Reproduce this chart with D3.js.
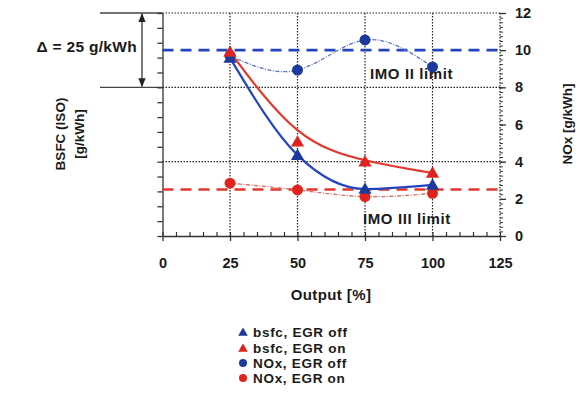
<!DOCTYPE html>
<html><head><meta charset="utf-8">
<script src="https://cdn.jsdelivr.net/npm/d3@7"></script>
<style>
body{margin:0;background:#fff}
svg{display:block}
text{font-family:"Liberation Sans",Arial,sans-serif;font-weight:bold;fill:#1a1a1a}
</style>
</head><body><svg id="c" width="580" height="393"></svg>
<script>
// ---- data ----
const outputs = [25, 50, 75, 100];
const bsfcEgrOff = [234.9, 202.2, 190.8, 192.2];
const bsfcEgrOn  = [236.9, 206.7, 200.0, 196.2];
const noxEgrOff  = [9.7, 8.93, 10.55, 9.1];
const noxEgrOn   = [2.84, 2.48, 2.12, 2.3];
const xTicks = [0, 25, 50, 75, 100, 125];
const noxTicks = [0, 2, 4, 6, 8, 10, 12];
const noxGrid = [4, 8];
const imoII = 10, imoIII = 2.5;
const bsfcDelta = [225, 250];
const legendLabels = ["bsfc, EGR off", "bsfc, EGR on", "NOx, EGR off", "NOx, EGR on"];

const BLUE = "#2545c0", RED = "#e5362b", BLUE_M = "#1c3a9e", RED_M = "#e0231c";
const L = 162.5, R = 500, T = 13, B = 236;

const svg = d3.select("#c");
const x = d3.scaleLinear().domain([0, 125]).range([L, R]);
const yN = d3.scaleLinear().domain([0, 12]).range([B, T]);
const yB = d3.scaleLinear().domain([175, 250]).range([B, T]);

const dotted = "1.5,1.5";

// grid & frame
const g = svg.append("g");
outputs.forEach(v => g.append("line").attr("x1", x(v)).attr("x2", x(v)).attr("y1", T).attr("y2", B)
  .attr("stroke", "#222").attr("stroke-width", 1.2).attr("stroke-dasharray", dotted));
noxGrid.concat([12]).forEach(v => g.append("line").attr("x1", L).attr("x2", R).attr("y1", yN(v)).attr("y2", yN(v))
  .attr("stroke", "#222").attr("stroke-width", 1.2).attr("stroke-dasharray", dotted));
g.append("line").attr("x1", R).attr("x2", R).attr("y1", T).attr("y2", B)
  .attr("stroke", "#222").attr("stroke-width", 1.2).attr("stroke-dasharray", dotted);

// bracket for delta
bsfcDelta.forEach(v => svg.append("line").attr("x1", 100).attr("x2", L).attr("y1", yB(v)).attr("y2", yB(v))
  .attr("stroke", "#444").attr("stroke-width", 1.3));
svg.append("defs").html('<marker id="ah" viewBox="0 0 10 10" refX="9" refY="5" markerWidth="7" markerHeight="7" orient="auto-start-reverse"><path d="M0,1 L10,5 L0,9 z" fill="#222"/></marker>');
svg.append("line").attr("x1", 142).attr("x2", 142).attr("y1", yB(bsfcDelta[1]) + 1).attr("y2", yB(bsfcDelta[0]) - 1)
  .attr("stroke", "#333").attr("stroke-width", 1.3)
  .attr("marker-start", "url(#ah)").attr("marker-end", "url(#ah)");
svg.append("text").attr("x", 137).attr("y", 52).attr("text-anchor", "end").attr("font-size", 15.5)
  .attr("letter-spacing", 0.3).text("\u0394 = 25 g/kWh");

// left axis (BSFC, no labels)
const la = svg.append("g").attr("transform", `translate(${L},0)`)
  .call(d3.axisLeft(yB).tickValues(d3.range(175, 251, 5)).tickSize(5).tickSizeOuter(0).tickFormat(""));
la.selectAll("path,line").attr("stroke", "#333").attr("stroke-width", 1.3);

// bottom axis
const ba = svg.append("g").attr("transform", `translate(0,${B})`)
  .call(d3.axisBottom(x).tickValues(xTicks).tickSize(5).tickSizeOuter(0).tickPadding(17).tickFormat(d3.format("d")));
ba.selectAll("path,line").attr("stroke", "#333").attr("stroke-width", 1.3);
ba.selectAll("text").attr("font-size", 14.5).attr("fill", "#1a1a1a");
const bm = svg.append("g").attr("transform", `translate(0,${B})`)
  .call(d3.axisTop(x).tickValues(d3.range(0, 126, 5)).tickSize(4).tickSizeOuter(0).tickFormat(""));
bm.select("path").remove();
bm.selectAll("line").attr("stroke", "#333").attr("stroke-width", 1.2);

// right axis
const ra = svg.append("g").attr("transform", `translate(${R},0)`)
  .call(d3.axisRight(yN).tickValues(noxTicks).tickSize(6).tickSizeOuter(0).tickPadding(9));
ra.select("path").remove();
ra.selectAll("line").attr("stroke", "#333").attr("stroke-width", 1.3);
ra.selectAll("text").attr("font-size", 14.5).attr("fill", "#1a1a1a");
const rm = svg.append("g").attr("transform", `translate(${R},0)`)
  .call(d3.axisRight(yN).tickValues(d3.range(0, 12.01, 0.25)).tickSize(3).tickSizeOuter(0).tickFormat(""));
rm.select("path").remove();
rm.selectAll("line").attr("stroke", "#333").attr("stroke-width", 1);

// limit lines
svg.append("line").attr("x1", L).attr("x2", R).attr("y1", yN(imoII)).attr("y2", yN(imoII))
  .attr("stroke", BLUE).attr("stroke-width", 2.6).attr("stroke-dasharray", "11,7");
svg.append("line").attr("x1", L).attr("x2", R).attr("y1", yN(imoIII)).attr("y2", yN(imoIII))
  .attr("stroke", RED).attr("stroke-width", 2.6).attr("stroke-dasharray", "11,7");

svg.append("text").attr("x", 370).attr("y", 79).attr("font-size", 15).attr("letter-spacing", 0.6).text("IMO II limit");
svg.append("text").attr("x", 363).attr("y", 224).attr("font-size", 15).attr("letter-spacing", 0.6).text("IMO III limit");

// curves
const pts = arr => outputs.map((o, i) => [o, arr[i]]);
const lineB = c => d3.line().x(d => x(d[0])).y(d => yB(d[1])).curve(c);
const lineN = c => d3.line().x(d => x(d[0])).y(d => yN(d[1])).curve(c);

svg.append("path").attr("d", lineN(d3.curveNatural)(pts(noxEgrOff))).attr("fill", "none")
  .attr("stroke", "#5a72cc").attr("stroke-width", 1.3).attr("stroke-dasharray", "4,1.5,1,1.5");
svg.append("path").attr("d", lineN(d3.curveNatural)(pts(noxEgrOn))).attr("fill", "none")
  .attr("stroke", "#e46a60").attr("stroke-width", 1.3).attr("stroke-dasharray", "4,1.5,1,1.5");
svg.append("path").attr("d", lineB(d3.curveMonotoneX)(pts(bsfcEgrOff))).attr("fill", "none")
  .attr("stroke", BLUE).attr("stroke-width", 2.2);
svg.append("path").attr("d", lineB(d3.curveBasis)(pts(bsfcEgrOn))).attr("fill", "none")
  .attr("stroke", RED).attr("stroke-width", 2.2);

// markers
const tri = d3.symbol(d3.symbolTriangle, 75);
svg.selectAll(".no").data(pts(noxEgrOff)).join("circle").attr("cx", d => x(d[0])).attr("cy", d => yN(d[1])).attr("r", 5.5).attr("fill", BLUE_M);
svg.selectAll(".nr").data(pts(noxEgrOn)).join("circle").attr("cx", d => x(d[0])).attr("cy", d => yN(d[1])).attr("r", 5.5).attr("fill", RED_M);
svg.selectAll(".bo").data(pts(bsfcEgrOff)).join("path").attr("d", tri).attr("transform", d => `translate(${x(d[0])},${yB(d[1]) + 1})`).attr("fill", BLUE_M);
svg.selectAll(".br").data(pts(bsfcEgrOn)).join("path").attr("d", tri).attr("transform", d => `translate(${x(d[0])},${yB(d[1]) + 1})`).attr("fill", RED_M);

// axis titles
svg.append("text").attr("x", 331).attr("y", 300).attr("text-anchor", "middle").attr("font-size", 15).attr("letter-spacing", 0.4).text("Output [%]");
svg.append("text").attr("transform", "translate(65,134) rotate(-90)").attr("text-anchor", "middle").attr("font-size", 13.5).text("BSFC (ISO)");
svg.append("text").attr("transform", "translate(84,134) rotate(-90)").attr("text-anchor", "middle").attr("font-size", 13.5).text("[g/kWh]");
svg.append("text").attr("transform", "translate(572,124) rotate(-90)").attr("text-anchor", "middle").attr("font-size", 13.5).text("NOx [g/kWh]");

// legend
const legY = [332, 348, 363, 378];
const legSym = [["tri", BLUE_M], ["tri", RED_M], ["cir", BLUE_M], ["cir", RED_M]];
const lg = svg.append("g");
legendLabels.forEach((t, i) => {
  if (legSym[i][0] === "tri") lg.append("path").attr("d", d3.symbol(d3.symbolTriangle, 40)()).attr("transform", `translate(243,${legY[i] + 1})`).attr("fill", legSym[i][1]);
  else lg.append("circle").attr("cx", 243).attr("cy", legY[i]).attr("r", 4).attr("fill", legSym[i][1]);
  lg.append("text").attr("x", 253).attr("y", legY[i] + 5).attr("font-size", 13.5).attr("letter-spacing", 0.7).text(t);
});
</script>
</body></html>
